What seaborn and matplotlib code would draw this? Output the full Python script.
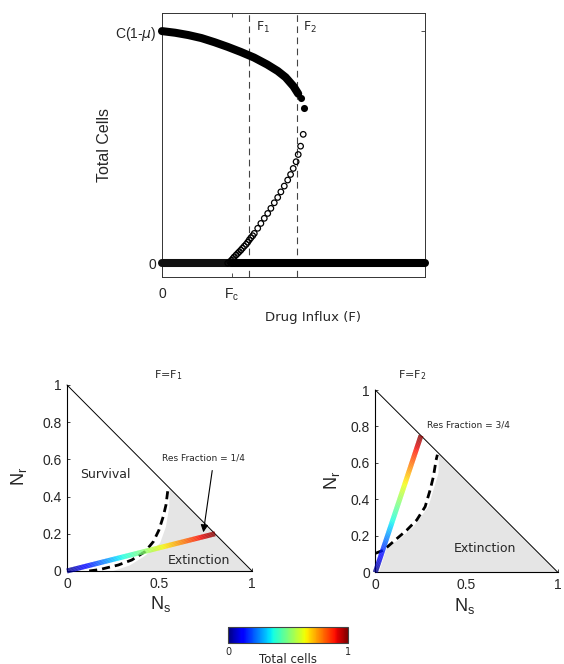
import numpy as np
import pandas as pd
import seaborn as sns
import matplotlib.pyplot as plt
from matplotlib.collections import LineCollection
from matplotlib.cm import ScalarMappable
from matplotlib.colors import Normalize

sns.set_theme(style="ticks")
plt.rcParams["font.family"] = ["Liberation Sans", "DejaVu Sans"]
plt.rcParams["mathtext.fontset"] = "dejavusans"

# ---------------- bifurcation diagram data ----------------
F_C = 0.266          # critical drug influx
F_1 = 0.331
F_2 = 0.515

# stable survival branch (filled markers)
stable_F = [0.0, 0.05, 0.10, 0.15, 0.20, 0.25, 0.30, 0.35, 0.40, 0.44, 0.47, 0.50, 0.518]
stable_N = [1.0, 0.993, 0.983, 0.970, 0.952, 0.932, 0.910, 0.886, 0.856, 0.828, 0.801, 0.762, 0.730]
tail_F = [0.527, 0.540]
tail_N = [0.713, 0.670]

# unstable branch (open markers)
unstable_F = [0.250, 0.258, 0.265, 0.270, 0.275, 0.282, 0.288, 0.294, 0.300, 0.306, 0.313,
              0.320, 0.326, 0.332, 0.338, 0.345, 0.351, 0.364, 0.376, 0.389, 0.402, 0.414,
              0.427, 0.440, 0.452, 0.465, 0.478, 0.489, 0.499, 0.510, 0.518, 0.527, 0.537]
unstable_N = [0.000, 0.006, 0.013, 0.020, 0.027, 0.035, 0.042, 0.049, 0.056, 0.064, 0.073,
              0.081, 0.090, 0.100, 0.109, 0.118, 0.128, 0.150, 0.171, 0.193, 0.214, 0.236,
              0.260, 0.283, 0.307, 0.332, 0.358, 0.382, 0.408, 0.437, 0.468, 0.504, 0.555]

# extinction state (N = 0): unstable below F_C, stable above
zero_unstable_F = [0.0, F_C]
zero_stable_F = [F_C, 1.0]
zero_N = [0.0, 0.0]

# ---------------- phase planes ----------------
res_labels = ["Res Fraction = 1/4", "Res Fraction = 3/4"]
panel_titles = [r"F=F$_\mathregular{1}$", r"F=F$_\mathregular{2}$"]

# end points (total cells = 1) of the initial-condition lines
traj_end_Ns = [0.80, 0.25]
traj_end_Nr = [0.20, 0.75]

# separatrix (dashed) for F = F1 and F = F2
sep1_Ns = [0.12, 0.178, 0.277, 0.350, 0.422, 0.467, 0.497, 0.520, 0.535, 0.544, 0.546]
sep1_Nr = [0.000, 0.008, 0.032, 0.059, 0.104, 0.158, 0.220, 0.292, 0.355, 0.426, 0.440]
sep2_Ns = [0.000, 0.046, 0.109, 0.173, 0.227, 0.273, 0.300, 0.318, 0.333, 0.340]
sep2_Nr = [0.104, 0.122, 0.177, 0.232, 0.287, 0.360, 0.451, 0.524, 0.616, 0.645]

# edge of the extinction basin
ext1_Ns = [0.250, 0.340, 0.420, 0.465, 0.503, 0.535, 0.553, 0.553]
ext1_Nr = [0.000, 0.030, 0.080, 0.115, 0.149, 0.238, 0.346, 0.447]
ext2_Ns = [0.020, 0.064, 0.127, 0.209, 0.291, 0.346, 0.349]
ext2_Nr = [0.000, 0.140, 0.177, 0.250, 0.360, 0.543, 0.651]

simplex_Ns = [0.0, 1.0]
simplex_Nr = [1.0, 0.0]

fig = plt.figure(figsize=(5.64, 6.64), dpi=100)

# =============== top: total cells vs drug influx ===============
ax = fig.add_axes([0.2872, 0.5828, 0.4663, 0.3976])
ax.set_xlim(0, 1)
ax.set_ylim(-0.06, 1.078)

for fx in (F_1, F_2):
    ax.axvline(fx, color="#444444", lw=0.8, ls=(0, (6, 4)), zorder=1)

sns.lineplot(x=zero_unstable_F, y=zero_N, ax=ax, color="#111111", lw=5.8,
             solid_capstyle="round", estimator=None, sort=False, zorder=3, clip_on=False)
sns.lineplot(x=zero_stable_F, y=zero_N, ax=ax, color="black", lw=5.8,
             solid_capstyle="round", estimator=None, sort=False, zorder=3, clip_on=False)
sns.lineplot(x=stable_F, y=stable_N, ax=ax, color="black", lw=5.8,
             solid_capstyle="round", estimator=None, sort=False, zorder=3, clip_on=False)
sns.scatterplot(x=tail_F, y=tail_N, ax=ax, color="black", s=26, linewidth=0, zorder=4)
sns.scatterplot(x=unstable_F, y=unstable_N, ax=ax, facecolors="none",
                edgecolor="black", s=16, linewidth=0.9, zorder=4)

ax.text(F_1 + 0.054, 1.017, r"F$_\mathregular{1}$", ha="center", va="center",
        fontsize=9, family="DejaVu Sans")
ax.text(F_2 + 0.048, 1.017, r"F$_\mathregular{2}$", ha="center", va="center",
        fontsize=9, family="DejaVu Sans")

ax.set_xticks([0, F_C])
ax.set_xticklabels(["0", r"F$_\mathregular{c}$"])
ax.set_yticks([0, 1])
ax.set_yticklabels(["0", r"C(1-$\mu$)"])
ax.tick_params(direction="in", top=True, right=True, length=3, width=0.6,
               labelsize=10, color="#333333")
ax.tick_params(axis="x", pad=7)
ax.tick_params(axis="y", pad=4)
for sp in ax.spines.values():
    sp.set_linewidth(0.7)
    sp.set_color("#333333")

ax.set_xlabel("Drug Influx (F)", fontsize=9.5, family="DejaVu Sans", va="center")
ax.xaxis.set_label_coords(0.574, -0.152)
ax.set_ylabel("Total Cells", fontsize=11.5, va="center")
ax.yaxis.set_label_coords(-0.217, 0.50)

# =============== bottom: phase planes ===============
panels = [
    dict(rect=[0.1188, 0.1401, 0.3280, 0.2801], sepx=sep1_Ns, sepy=sep1_Nr,
         extx=ext1_Ns, exty=ext1_Nr, title_xy=(0.546, 1.054),
         surv=(0.21, 0.52), ext=(0.715, 0.054), res_xy=(0.737, 0.609),
         arrow_from=(0.785, 0.540), arrow_to=(0.737, 0.208),
         xlab=(0.503, -0.175), ylab=(-0.262, 0.51)),
    dict(rect=[0.6655, 0.1381, 0.3235, 0.2745], sepx=sep2_Ns, sepy=sep2_Nr,
         extx=ext2_Ns, exty=ext2_Nr, title_xy=(0.20, 1.082),
         surv=None, ext=(0.60, 0.13), res_xy=(0.51, 0.81),
         arrow_from=None, arrow_to=None,
         xlab=(0.49, -0.185), ylab=(-0.24, 0.506)),
]

cmap = plt.get_cmap("jet")
for i, p in enumerate(panels):
    bx = fig.add_axes(p["rect"])
    bx.set_xlim(0, 1)
    bx.set_ylim(0, 1)

    # extinction basin
    bx.fill(list(p["extx"]) + [1.0], list(p["exty"]) + [0.0], color="#e5e5e5",
            lw=0, zorder=1)
    sns.lineplot(x=simplex_Ns, y=simplex_Nr, ax=bx, color="black", lw=0.7,
                 estimator=None, sort=False, zorder=2, clip_on=False)
    sns.lineplot(x=p["sepx"], y=p["sepy"], ax=bx, color="black", lw=2.0,
                 ls=(0, (2.9, 1.8)), estimator=None, sort=False, zorder=3)

    # initial conditions at a fixed resistant fraction, coloured by total cells
    total = np.linspace(0, 1, 200)
    pts = np.column_stack([traj_end_Ns[i] * total,
                           traj_end_Nr[i] * total]).reshape(-1, 1, 2)
    segs = np.concatenate([pts[:-1], pts[1:]], axis=1)
    lc = LineCollection(segs, cmap=cmap, norm=Normalize(0, 1), lw=3.6,
                        capstyle="butt", zorder=4, clip_on=False)
    lc.set_array(total[:-1])
    bx.add_collection(lc)

    bx.text(*p["title_xy"], panel_titles[i], ha="center", va="center",
            fontsize=8, family="DejaVu Sans")
    bx.text(*p["ext"], "Extinction", ha="center", va="center", fontsize=9,
            family="DejaVu Sans")
    if p["surv"] is not None:
        bx.text(*p["surv"], "Survival", ha="center", va="center", fontsize=9,
                family="DejaVu Sans")
    bx.text(*p["res_xy"], res_labels[i], ha="center", va="center", fontsize=6.5,
            family="DejaVu Sans")
    if p["arrow_from"] is not None:
        bx.annotate("", xy=p["arrow_to"], xytext=p["arrow_from"],
                    arrowprops=dict(arrowstyle="-|>", color="black", lw=0.8,
                                    mutation_scale=11, shrinkA=0, shrinkB=0),
                    zorder=5)

    bx.set_xticks([0, 0.5, 1])
    bx.set_xticklabels(["0", "0.5", "1"])
    bx.set_yticks([0, 0.2, 0.4, 0.6, 0.8, 1])
    bx.set_yticklabels(["0", "0.2", "0.4", "0.6", "0.8", "1"])
    bx.tick_params(direction="in", length=2.5, width=0.6, labelsize=10, pad=4)
    sns.despine(ax=bx)
    for s in ("left", "bottom"):
        bx.spines[s].set_linewidth(0.8)
        bx.spines[s].set_color("black")

    bx.set_xlabel(r"N$_\mathregular{s}$", fontsize=13, va="center")
    bx.xaxis.set_label_coords(*p["xlab"])
    bx.set_ylabel(r"N$_\mathregular{r}$", fontsize=13, va="center")
    bx.yaxis.set_label_coords(*p["ylab"])

# =============== colour bar ===============
cax = fig.add_axes([0.4048, 0.0321, 0.2117, 0.0241])
cb = fig.colorbar(ScalarMappable(norm=Normalize(0, 1), cmap=cmap), cax=cax,
                  orientation="horizontal")
cb.set_ticks([0, 0.2, 0.4, 0.6, 0.8, 1])
cb.set_ticklabels(["0", "", "", "", "", "1"])
cb.ax.tick_params(direction="in", length=2, width=0.6, labelsize=7, pad=3,
                  color="#333333")
for t in cb.ax.get_xticklabels():
    t.set_family("DejaVu Sans")
cb.outline.set_linewidth(0.8)
cb.outline.set_edgecolor("#444444")
cax.text(0.5, -1.02, "Total cells", transform=cax.transAxes, ha="center",
         va="center", fontsize=8.5, family="DejaVu Sans")

fig.savefig("out.png", dpi=100)
